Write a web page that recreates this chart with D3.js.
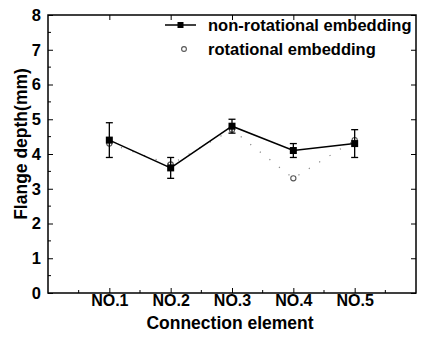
<!DOCTYPE html>
<html>
<head>
<meta charset="utf-8">
<script src="https://cdn.jsdelivr.net/npm/d3@7"></script>
<style>
  body { margin: 0; background: #fff; }
  text { font-family: "Liberation Sans", Arial, sans-serif; font-weight: bold; }
</style>
</head>
<body>
<div id="chart"></div>
<script>
// chart values
const categories = ["NO.1", "NO.2", "NO.3", "NO.4", "NO.5"];
const nonRotational = [4.4, 3.6, 4.8, 4.1, 4.3];
const nonRotUpper = [4.9, 3.9, 5.0, 4.3, 4.7];
const nonRotLower = [3.9, 3.3, 4.6, 3.9, 3.9];
const rotational = [4.3, 3.7, 4.7, 3.3, 4.4];
const yTicks = [0, 1, 2, 3, 4, 5, 6, 7, 8];
const seriesNames = ["non-rotational embedding", "rotational embedding"];

(function(){
  let svgWidth = 421, svgHeight = 337;
  let margin = { top: 15, right: 5, bottom: 44, left: 48 };
  let width = svgWidth - margin.left - margin.right;
  let height = svgHeight - margin.top - margin.bottom;

  let svg = d3.select("#chart").append("svg")
    .attr("width", svgWidth).attr("height", svgHeight);
  let g = svg.append("g").attr("transform", `translate(${margin.left}, ${margin.top})`);

  // x: categories sit at 1..5 on a 0..6 scale
  let x = d3.scaleLinear().domain([0, categories.length + 1]).range([0, width]);
  let y = d3.scaleLinear().domain([0, 8]).range([height, 0]);

  let xPos = categories.map((c, i) => i + 1);
  let xMinor = d3.range(0.5, categories.length + 1, 1);
  let yMinor = d3.range(0.5, 8, 1);

  // frame
  g.append("rect").attr("width", width).attr("height", height)
    .attr("fill", "none").attr("stroke", "#000").attr("stroke-width", 1.5);

  // bottom axis (ticks inward)
  let xAxis = g.append("g").attr("transform", `translate(0, ${height})`)
    .call(d3.axisBottom(x).tickValues(xPos).tickSizeInner(-5).tickSizeOuter(0)
      .tickFormat((d, i) => categories[i]).tickPadding(2));
  xAxis.select(".domain").remove();
  xAxis.selectAll("text").attr("font-size", 16).attr("fill", "#000");
  xMinor.forEach(v => {
    xAxis.append("line").attr("x1", x(v)).attr("x2", x(v)).attr("y1", 0).attr("y2", -3).attr("stroke", "#000");
  });

  // left axis
  let yAxis = g.append("g")
    .call(d3.axisLeft(y).tickValues(yTicks).tickSizeInner(-5).tickSizeOuter(0)
      .tickFormat(d3.format("d")).tickPadding(7));
  yAxis.select(".domain").remove();
  yAxis.selectAll("text").attr("font-size", 16.5).attr("fill", "#000");
  yMinor.forEach(v => {
    yAxis.append("line").attr("x1", 0).attr("x2", 3).attr("y1", y(v)).attr("y2", y(v)).attr("stroke", "#000");
  });

  // mirrored ticks on top / right
  let topAxis = g.append("g")
    .call(d3.axisTop(x).tickValues(xPos).tickSizeInner(-5).tickSizeOuter(0).tickFormat(""));
  topAxis.select(".domain").remove();
  let rightAxis = g.append("g").attr("transform", `translate(${width}, 0)`)
    .call(d3.axisRight(y).tickValues(yTicks).tickSizeInner(-5).tickSizeOuter(0).tickFormat(""));
  rightAxis.select(".domain").remove();

  // rotational series: faint dotted line + small open circles
  let line = d3.line().x((d, i) => x(xPos[i])).y(d => y(d));
  g.append("path").datum(rotational)
    .attr("d", line).attr("fill", "none")
    .attr("stroke", "#888").attr("stroke-width", 1.2)
    .attr("stroke-dasharray", "1.2,11");
  g.selectAll(".rot").data(rotational).enter().append("circle")
    .attr("cx", (d, i) => x(xPos[i])).attr("cy", d => y(d))
    .attr("r", 2.6).attr("fill", "#fff").attr("stroke", "#555").attr("stroke-width", 1.1);

  // non-rotational error bars
  nonRotational.forEach((v, i) => {
    let cx = x(xPos[i]);
    g.append("line").attr("x1", cx).attr("x2", cx)
      .attr("y1", y(nonRotUpper[i])).attr("y2", y(nonRotLower[i]))
      .attr("stroke", "#000").attr("stroke-width", 1.3);
    [nonRotUpper[i], nonRotLower[i]].forEach(e => {
      g.append("line").attr("x1", cx - 3.5).attr("x2", cx + 3.5)
        .attr("y1", y(e)).attr("y2", y(e)).attr("stroke", "#000").attr("stroke-width", 1.3);
    });
  });

  // non-rotational line + squares
  g.append("path").datum(nonRotational)
    .attr("d", line).attr("fill", "none")
    .attr("stroke", "#000").attr("stroke-width", 1.5);
  g.selectAll(".nonrot").data(nonRotational).enter().append("rect")
    .attr("x", (d, i) => x(xPos[i]) - 3.5).attr("y", d => y(d) - 3.5)
    .attr("width", 7).attr("height", 7).attr("fill", "#000");

  // legend
  let lg = svg.append("g");
  lg.append("line").attr("x1", 165).attr("x2", 196).attr("y1", 25).attr("y2", 25)
    .attr("stroke", "#000").attr("stroke-width", 1.5);
  lg.append("rect").attr("x", 180.5 - 3).attr("y", 22).attr("width", 6).attr("height", 6).attr("fill", "#000");
  lg.append("circle").attr("cx", 184).attr("cy", 49).attr("r", 2.4)
    .attr("fill", "#fff").attr("stroke", "#555").attr("stroke-width", 1.1);
  lg.append("text").attr("x", 208).attr("y", 31).attr("font-size", 16.5).text(seriesNames[0]);
  lg.append("text").attr("x", 208).attr("y", 55).attr("font-size", 16.5).text(seriesNames[1]);

  // axis titles
  svg.append("text")
    .attr("x", margin.left + width / 2 - 2).attr("y", 329)
    .attr("text-anchor", "middle").attr("font-size", 17.5)
    .text("Connection element");
  svg.append("text")
    .attr("transform", `translate(27, 144) rotate(-90)`)
    .attr("text-anchor", "middle").attr("font-size", 17.5)
    .text("Flange depth(mm)");
})();
</script>
</body>
</html>
